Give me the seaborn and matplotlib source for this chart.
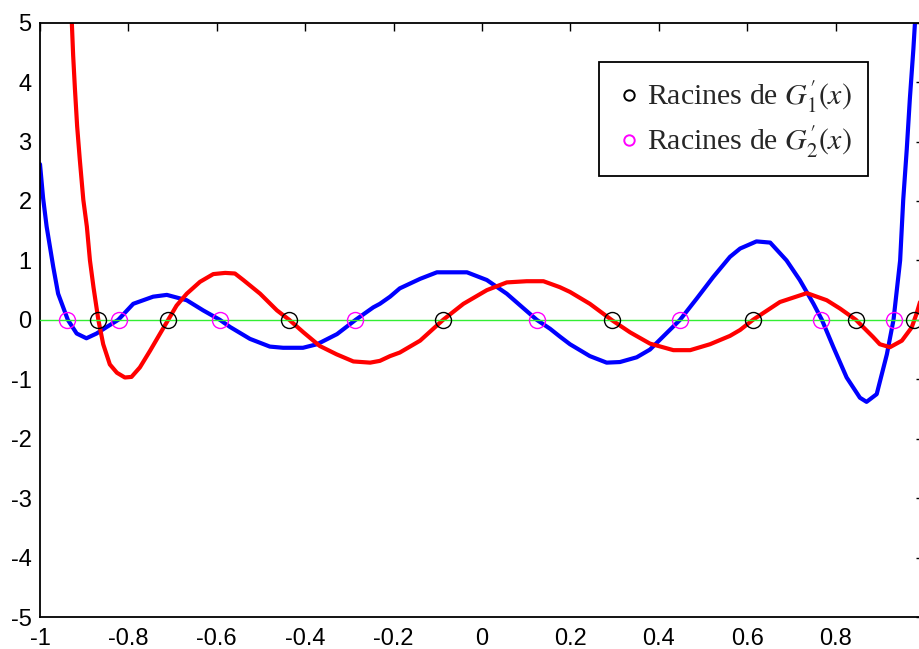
import matplotlib
matplotlib.use("Agg")
import matplotlib.pyplot as plt
import seaborn as sns
import pandas as pd
from matplotlib.lines import Line2D

# ---- data ----
g1_x = [-0.932, -0.928, -0.925, -0.921, -0.916, -0.910, -0.902, -0.894, -0.887, -0.879,
        -0.868, -0.857, -0.842, -0.826, -0.808, -0.793, -0.774, -0.751, -0.729, -0.710,
        -0.691, -0.668, -0.638, -0.608, -0.581, -0.559, -0.540, -0.502, -0.464, -0.436,
        -0.404, -0.367, -0.329, -0.291, -0.253, -0.231, -0.208, -0.186, -0.140, -0.088,
        -0.042, 0.011, 0.056, 0.101, 0.139, 0.176, 0.199, 0.244, 0.293, 0.335,
        0.380, 0.433, 0.471, 0.516, 0.561, 0.584, 0.613, 0.674, 0.735, 0.780,
        0.810, 0.846, 0.885, 0.900, 0.923, 0.950, 0.972, 0.983, 0.991, 1.000]
g1_y = [5.60, 5.00, 4.45, 3.89, 3.26, 2.70, 2.02, 1.57, 1.00, 0.55,
        0.00, -0.41, -0.75, -0.89, -0.97, -0.96, -0.80, -0.52, -0.24, 0.00,
        0.24, 0.44, 0.64, 0.77, 0.79, 0.78, 0.67, 0.44, 0.16, 0.00,
        -0.21, -0.44, -0.58, -0.70, -0.72, -0.69, -0.61, -0.55, -0.35, 0.00,
        0.27, 0.50, 0.63, 0.65, 0.65, 0.55, 0.47, 0.27, 0.00, -0.21,
        -0.40, -0.51, -0.51, -0.41, -0.27, -0.17, 0.00, 0.30, 0.45, 0.33,
        0.19, 0.00, -0.29, -0.41, -0.46, -0.35, -0.13, 0.10, 0.30, 0.55]

g2_x = [-1.000, -0.993, -0.985, -0.970, -0.959, -0.937, -0.917, -0.895, -0.872, -0.849,
        -0.823, -0.789, -0.744, -0.713, -0.668, -0.631, -0.593, -0.570, -0.525, -0.480,
        -0.450, -0.405, -0.373, -0.328, -0.286, -0.246, -0.231, -0.208, -0.186, -0.140,
        -0.102, -0.034, 0.011, 0.056, 0.093, 0.124, 0.154, 0.176, 0.199, 0.244,
        0.282, 0.312, 0.350, 0.380, 0.414, 0.448, 0.486, 0.523, 0.561, 0.584,
        0.621, 0.652, 0.689, 0.719, 0.750, 0.769, 0.795, 0.825, 0.855, 0.870,
        0.893, 0.916, 0.931, 0.946, 0.953, 0.961, 0.968, 0.976, 0.982, 0.991]
g2_y = [2.62, 2.05, 1.57, 0.89, 0.44, 0.00, -0.23, -0.31, -0.23, -0.12,
        0.00, 0.27, 0.39, 0.42, 0.33, 0.16, 0.00, -0.12, -0.32, -0.45,
        -0.47, -0.47, -0.41, -0.24, 0.00, 0.21, 0.27, 0.39, 0.53, 0.69,
        0.80, 0.80, 0.67, 0.44, 0.20, 0.00, -0.15, -0.28, -0.41, -0.61,
        -0.72, -0.71, -0.63, -0.50, -0.25, 0.00, 0.36, 0.72, 1.06, 1.20,
        1.32, 1.30, 1.00, 0.67, 0.27, 0.00, -0.46, -0.97, -1.31, -1.38,
        -1.25, -0.58, 0.00, 1.00, 2.02, 2.87, 3.72, 4.56, 5.30, 6.50]

roots_g1 = [-0.868, -0.710, -0.436, -0.088, 0.293, 0.613, 0.846, 0.977]
roots_g2 = [-0.938, -0.822, -0.593, -0.287, 0.124, 0.447, 0.768, 0.931]

x_ticks = [-1, -0.8, -0.6, -0.4, -0.2, 0, 0.2, 0.4, 0.6, 0.8, 1]
x_tick_labels = ["-1", "-0.8", "-0.6", "-0.4", "-0.2", "0", "0.2", "0.4", "0.6", "0.8", "1"]
y_ticks = [-5, -4, -3, -2, -1, 0, 1, 2, 3, 4, 5]
y_tick_labels = ["-5", "-4", "-3", "-2", "-1", "0", "1", "2", "3", "4", "5"]
legend_labels = [r"Racines de $G_1'(x)$", r"Racines de $G_2'(x)$"]

# ---- style ----
sns.set_style("white")
plt.rcParams["font.family"] = ["Liberation Sans", "DejaVu Sans"]
plt.rcParams["mathtext.fontset"] = "stix"

fig = plt.figure(figsize=(9.2, 6.49), dpi=100)
ax = fig.add_axes([40 / 920, 32 / 649, 884 / 920, 594.3 / 649])

df1 = pd.DataFrame({"x": g1_x, "y": g1_y})
df2 = pd.DataFrame({"x": g2_x, "y": g2_y})

sns.lineplot(data=df2, x="x", y="y", ax=ax, color="#0000ff", lw=3.0,
             sort=False, estimator=None, zorder=2)
sns.lineplot(data=df1, x="x", y="y", ax=ax, color="#ff0000", lw=3.0,
             sort=False, estimator=None, zorder=2)

ax.axhline(0, color="#33ee33", lw=1.0, zorder=3)

r1 = pd.DataFrame({"x": roots_g1, "y": [0.0] * len(roots_g1)})
r2 = pd.DataFrame({"x": roots_g2, "y": [0.0] * len(roots_g2)})
sns.lineplot(data=r1, x="x", y="y", ax=ax, linestyle="none", marker="o",
             markersize=11.5, markerfacecolor="none", markeredgecolor="black",
             markeredgewidth=1.0, sort=False, estimator=None, zorder=4)
sns.lineplot(data=r2, x="x", y="y", ax=ax, linestyle="none", marker="o",
             markersize=11.5, markerfacecolor="none", markeredgecolor="#ff00ff",
             markeredgewidth=1.0, sort=False, estimator=None, zorder=4)

ax.set_xlim(-1, 1)
ax.set_ylim(-5, 5)
ax.set_xticks(x_ticks)
ax.set_xticklabels(x_tick_labels)
ax.set_yticks(y_ticks)
ax.set_yticklabels(y_tick_labels)
ax.set_xlabel("")
ax.set_ylabel("")
ax.tick_params(axis="both", direction="in", length=6, width=1, top=True, right=True,
               labelsize=17, colors="black")
ax.tick_params(axis="x", pad=8)
ax.tick_params(axis="y", pad=6)
for s in ax.spines.values():
    s.set_color("black")
    s.set_linewidth(1.3)

handles = [
    Line2D([], [], linestyle="none", marker="o", markersize=7.5, markerfacecolor="none",
           markeredgecolor="black", markeredgewidth=1.4),
    Line2D([], [], linestyle="none", marker="o", markersize=7.5, markerfacecolor="none",
           markeredgecolor="#ff00ff", markeredgewidth=1.4),
]
leg = ax.legend(handles, legend_labels, loc="upper right", bbox_to_anchor=(0.937, 0.934),
                borderaxespad=0, frameon=True, fancybox=False, framealpha=1,
                edgecolor="black", handlelength=0.9, handletextpad=0.15,
                borderpad=0.55, labelspacing=0.3,
                prop={"family": ["Liberation Serif", "DejaVu Serif"], "size": 21.5})
leg.get_frame().set_linewidth(1.3)

fig.savefig("out.png", dpi=100)
